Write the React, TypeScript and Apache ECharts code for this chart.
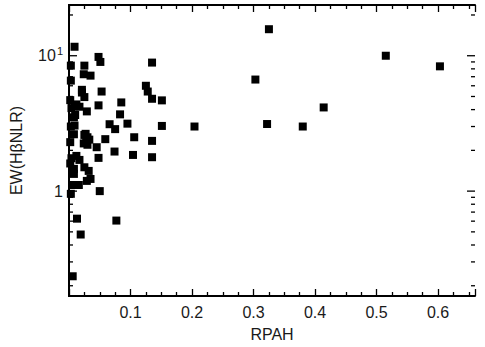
import React, { useEffect, useRef } from "react";
import * as echarts from "echarts";

const rpah = [
  0.325, 0.515, 0.603, 0.303, 0.414, 0.322, 0.380, 0.204, 0.151, 0.151,
  0.135, 0.135, 0.135, 0.135, 0.125, 0.128, 0.104, 0.106, 0.095, 0.085,
  0.083, 0.074, 0.066, 0.075, 0.077, 0.059, 0.045, 0.048, 0.050, 0.048,
  0.053, 0.048, 0.051, 0.009, 0.003, 0.025, 0.024, 0.035, 0.003, 0.021,
  0.025, 0.021, 0.012, 0.009, 0.004, 0.017, 0.029, 0.008, 0.010, 0.003,
  0.009, 0.008, 0.025, 0.030, 0.028, 0.033, 0.024, 0.012, 0.017, 0.025,
  0.008, 0.032, 0.004, 0.035, 0.008, 0.005, 0.016, 0.029, 0.003, 0.013,
  0.019, 0.006, 0.002, 0.002, 0.002, 0.030, 0.027,
];
const ewHbeta = [
  15.7, 10.0, 8.35, 6.67, 4.15, 3.13, 3.0, 3.0, 3.03, 4.68,
  4.81, 8.9, 2.35, 1.78, 6.0, 5.44, 1.85, 2.5, 3.15, 4.52,
  3.69, 1.96, 3.12, 2.87, 0.606, 2.42, 2.11, 1.76, 1.0, 4.3,
  5.44, 9.8, 9.0, 11.65, 8.45, 8.45, 7.3, 7.13, 6.55, 5.35,
  4.95, 5.6, 4.37, 4.23, 4.1, 4.2, 3.88, 3.51, 3.65, 3.0,
  3.05, 2.63, 2.6, 2.5, 2.3, 2.4, 2.25, 1.82, 1.7, 1.5,
  1.46, 1.41, 1.75, 1.23, 1.34, 1.11, 1.11, 1.19, 0.955, 0.626,
  0.478, 0.235, 2.3, 1.6, 4.7, 2.2, 2.65,
];
const yTickValues = [0.2, 0.3, 0.4, 0.5, 0.6, 0.7, 0.8, 0.9, 1, 2, 3, 4, 5, 6, 7, 8, 9, 10, 20];
const yMajorTicks = [1, 10];
const xLabels = ["0.1", "0.2", "0.3", "0.4", "0.5", "0.6"];

const FONT = "'Liberation Sans', Arial, Helvetica, sans-serif";
const INK = "#000";
const TEXT = "#1a1a1a";

export default function App() {
  const ref = useRef<HTMLDivElement>(null);
  useEffect(() => {
    document.body.style.margin = "0";
    const chart = echarts.init(ref.current!, null, { renderer: "svg" });
    const X_MIN = 0, X_MAX = 0.66, Y_MIN = 0.168, Y_MAX = 23.7;
    const axisLine = { show: true, lineStyle: { color: INK, width: 2 } };
    const tickStyle = { color: INK, width: 1.3 };
    chart.setOption({
      animation: false,
      backgroundColor: "#fff",
      grid: { left: 68, top: 5, right: 10, bottom: 49 },
      xAxis: [
        {
          type: "value",
          min: X_MIN,
          max: X_MAX,
          interval: 0.1,
          position: "bottom",
          axisLine,
          splitLine: { show: false },
          axisTick: { show: true, inside: true, length: 7, lineStyle: tickStyle },
          minorTick: { show: true, splitNumber: 4, length: 4, lineStyle: tickStyle },
          axisLabel: {
            margin: 8,
            fontSize: 16,
            fontFamily: FONT,
            color: TEXT,
            showMinLabel: false,
            showMaxLabel: false,
            formatter: (v: number) => {
              const s = v.toFixed(1);
              return xLabels.includes(s) && Math.abs(v - parseFloat(s)) < 1e-6 ? s : "";
            },
          },
          name: "RPAH",
          nameLocation: "middle",
          nameGap: 30,
          nameTextStyle: { fontSize: 16, fontFamily: FONT, color: TEXT },
        },
        {
          type: "value",
          min: X_MIN,
          max: X_MAX,
          interval: 0.1,
          position: "top",
          axisLine,
          splitLine: { show: false },
          axisTick: { show: true, inside: true, length: 7, lineStyle: tickStyle },
          minorTick: { show: true, splitNumber: 4, length: 4, lineStyle: tickStyle },
          axisLabel: { show: false },
        },
      ],
      yAxis: [
        {
          type: "log",
          logBase: 10,
          min: Y_MIN,
          max: Y_MAX,
          position: "left",
          axisLine,
          splitLine: { show: false },
          axisTick: { show: false },
          axisLabel: {
            margin: 6,
            fontSize: 16,
            fontFamily: FONT,
            color: TEXT,
            showMinLabel: false,
            showMaxLabel: false,
            formatter: (v: number) => {
              if (Math.abs(v - 10) < 1e-6) return "{n|10}{s|1}";
              if (Math.abs(v - 1) < 1e-6) return "1";
              return "";
            },
            rich: {
              n: { fontSize: 16, fontFamily: FONT, color: TEXT, verticalAlign: "middle" },
              s: { fontSize: 11, fontFamily: FONT, color: TEXT, verticalAlign: "top", padding: [0, 0, 10, 1] },
            },
          },
          name: "EW(H\u03B2NLR)",
          nameLocation: "middle",
          nameGap: 45,
          nameTextStyle: { fontSize: 16, fontFamily: FONT, color: TEXT },
        },
        {
          type: "log",
          logBase: 10,
          min: Y_MIN,
          max: Y_MAX,
          position: "right",
          axisLine,
          splitLine: { show: false },
          axisTick: { show: false },
          axisLabel: { show: false },
        },
      ],
      series: [
        {
          type: "scatter",
          symbol: "rect",
          symbolSize: 8,
          itemStyle: { color: "#000", opacity: 1 },
          data: rpah.map((x, i) => [x, ewHbeta[i]]),
        },
        {
          type: "custom",
          silent: true,
          clip: false,
          data: yTickValues.map((v) => [X_MIN, v]),
          renderItem: (params: any, api: any) => {
            const v = api.value(1);
            const p = api.coord([X_MIN, v]);
            const cs = params.coordSys;
            const len = yMajorTicks.includes(v) ? 8 : 4;
            const style = { stroke: INK, lineWidth: 1.3 };
            return {
              type: "group",
              children: [
                { type: "line", shape: { x1: cs.x, y1: p[1], x2: cs.x + len, y2: p[1] }, style },
                { type: "line", shape: { x1: cs.x + cs.width, y1: p[1], x2: cs.x + cs.width - len, y2: p[1] }, style },
              ],
            };
          },
        },
      ],
    });
    return () => chart.dispose();
  }, []);
  return <div ref={ref} style={{ width: 485, height: 347 }} />;
}
